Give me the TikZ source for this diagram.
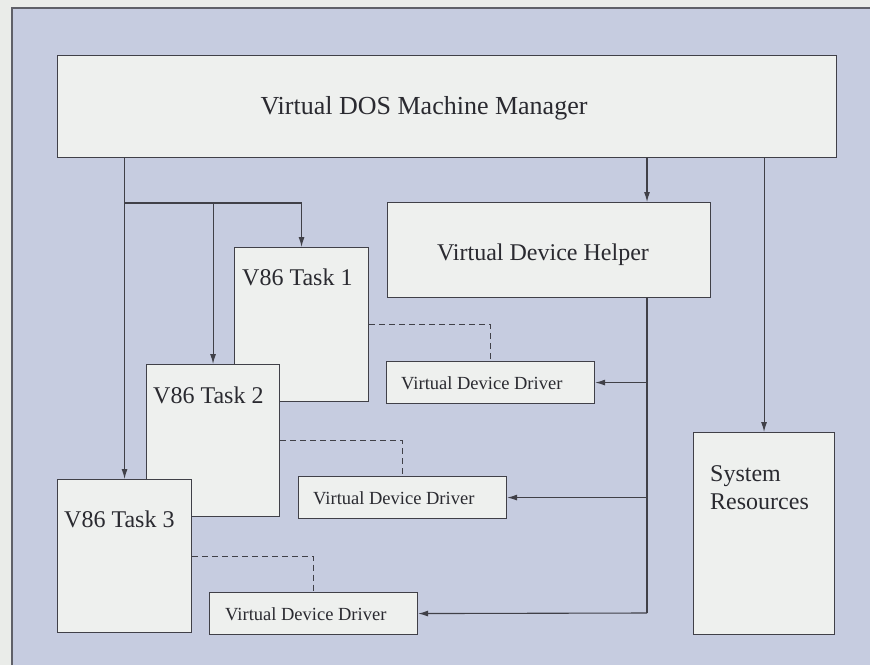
\documentclass[tikz,border=0pt]{standalone}
\usepackage{fontspec}
\setmainfont{Liberation Serif}
\usetikzlibrary{arrows.meta}
\definecolor{paper}{HTML}{EAECE9}
\definecolor{panel}{HTML}{C6CCE0}
\definecolor{boxfill}{HTML}{EEF0EE}
\definecolor{ink}{HTML}{404048}
\definecolor{rim}{HTML}{5F6068}
\definecolor{textink}{HTML}{2A2A30}
\begin{document}
\begin{tikzpicture}[x=1pt,y=-1pt,
  box/.style={draw=ink, fill=boxfill, line width=1.1pt, inner sep=0pt, anchor=north west},
  bigtext/.style={font=\fontsize{24}{28}\selectfont, text=textink, inner sep=0pt},
  smalltext/.style={font=\fontsize{18.5}{22}\selectfont, text=textink, inner sep=0pt, anchor=base west},
  link/.style={draw=ink, line width=1.1pt, -{Latex[length=10pt,width=6pt]}},
  wire/.style={draw=ink, line width=1.1pt},
  dashlink/.style={draw=ink, line width=1.1pt, dash pattern=on 6pt off 4pt}]

  % page and tinted panel
  \useasboundingbox (0,0) rectangle (870,665);
  \fill[paper] (0,0) rectangle (870,665);
  \fill[panel] (12,8) rectangle (870,665);
  \draw[rim, line width=1.6pt] (12,665) -- (12,8) -- (870,8);

  % boxes
  \node[box, minimum width=779pt, minimum height=102pt] (vdmm) at (57,55) {};
  \node[bigtext, font=\fontsize{26}{30}\selectfont, anchor=base] (vdmmtxt) at (424,114) {Virtual DOS Machine Manager};

  \node[box, minimum width=323pt, minimum height=95pt] (vdh) at (387,202) {};
  \node[bigtext, anchor=base] (vdhtxt) at (543,260) {Virtual Device Helper};

  \node[box, minimum width=141pt, minimum height=202pt] (sr) at (693,432) {};
  \node[bigtext, anchor=base west] (srtxt1) at (710,481) {System};
  \node[bigtext, anchor=base west] (srtxt2) at (710,509) {Resources};

  \node[box, minimum width=134pt, minimum height=154pt] (t1) at (234,247) {};
  \node[bigtext, anchor=base west] (t1txt) at (242,285) {V86 Task 1};
  \node[box, minimum width=133pt, minimum height=152pt] (t2) at (146,364) {};
  \node[bigtext, anchor=base west] (t2txt) at (153,403) {V86 Task 2};
  \node[box, minimum width=134pt, minimum height=153pt] (t3) at (57,479) {};
  \node[bigtext, anchor=base west] (t3txt) at (64,527) {V86 Task 3};

  \node[box, minimum width=208pt, minimum height=42pt] (vdd1) at (386,361) {};
  \node[smalltext] (vdd1txt) at (401,389) {Virtual Device Driver};
  \node[box, minimum width=208pt, minimum height=42pt] (vdd2) at (298,476) {};
  \node[smalltext] (vdd2txt) at (313,504) {Virtual Device Driver};
  \node[box, minimum width=208pt, minimum height=42pt] (vdd3) at (209,592) {};
  \node[smalltext] (vdd3txt) at (225,620) {Virtual Device Driver};

  % manager to tasks
  \coordinate (split) at (124,203);
  \draw[link] (vdmm.south -| t3.north) -- (t3.north);
  \draw[wire] (split) -- (split -| t1.north);
  \draw[link] (split -| t2.north) -- (t2.north);
  \draw[link] (split -| t1.north) -- (t1.north);

  % manager to helper and resources
  \coordinate (bus) at (647,613);
  \draw[link] (vdmm.south -| bus) -- (vdh.north -| bus);
  \draw[link] (vdmm.south -| sr.north) -- (sr.north);

  % helper to the device drivers
  \draw[wire] (vdh.south -| bus) -- (bus);
  \draw[link] (vdd1.east -| bus) -- (vdd1.east);
  \draw[link] (vdd2.east -| bus) -- (vdd2.east);
  \draw[link] (bus) -- (vdd3.east);

  % tasks to their drivers
  \draw[dashlink] (t1.east) -| (vdd1.north);
  \draw[dashlink] (t2.east) -| (vdd2.north);
  \draw[dashlink] (t3.east) -| (vdd3.north);
\end{tikzpicture}
\end{document}
